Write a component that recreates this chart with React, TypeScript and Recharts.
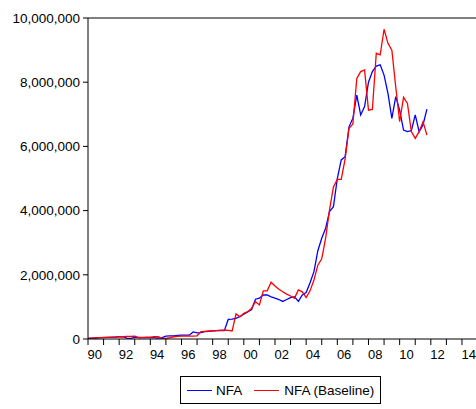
import React from 'react';
import {
  LineChart,
  Line,
  XAxis,
  YAxis,
  ReferenceLine,
} from 'recharts';

// Quarterly observations, 1990Q1 onwards, in millions
const START_YEAR = 1990;

const NFA = [
  0.02, 0.03, 0.03, 0.04,
  0.04, 0.05, 0.05, 0.06,
  0.07, 0.07, 0.03, 0.02,
  0.05, 0.05, 0.04, 0.05,
  0.04, 0.04, 0.03, 0.04,
  0.09, 0.10, 0.10, 0.11,
  0.12, 0.12, 0.12, 0.22,
  0.19, 0.20, 0.23, 0.24,
  0.25, 0.26, 0.27, 0.26,
  0.61, 0.62, 0.64, 0.70,
  0.77, 0.84, 0.92, 1.24,
  1.27, 1.37, 1.37, 1.31,
  1.27, 1.23, 1.17, 1.23,
  1.29, 1.32, 1.17, 1.37,
  1.45, 1.75, 2.10, 2.75,
  3.14, 3.45, 3.97, 4.12,
  5.00, 5.58, 5.68, 6.61,
  6.88, 7.60, 6.98, 7.24,
  8.00, 8.33, 8.50, 8.54,
  8.22, 7.65, 6.87, 7.55,
  7.13, 6.51, 6.46, 6.49,
  6.98, 6.46, 6.67, 7.16,
];

const NFA_BASELINE = [
  0.02, 0.03, 0.04, 0.04,
  0.05, 0.05, 0.06, 0.06,
  0.07, 0.07, 0.08, 0.08,
  0.09, 0.04, 0.05, 0.05,
  0.06, 0.07, 0.07, 0.02,
  0.02, 0.04, 0.07, 0.08,
  0.09, 0.09, 0.09, 0.09,
  0.10, 0.23, 0.24, 0.25,
  0.25, 0.26, 0.27, 0.28,
  0.27, 0.25, 0.78, 0.69,
  0.80, 0.85, 0.96, 1.16,
  1.06, 1.50, 1.50, 1.77,
  1.65, 1.55, 1.47, 1.40,
  1.34, 1.27, 1.53, 1.47,
  1.29, 1.50, 1.84, 2.30,
  2.50, 3.14, 4.02, 4.74,
  4.97, 4.97, 5.60, 6.56,
  6.70, 8.12, 8.33, 8.38,
  7.13, 7.15, 8.90, 8.85,
  9.65, 9.21, 9.00, 7.85,
  6.77, 7.53, 7.34, 6.46,
  6.25, 6.46, 6.77, 6.35,
];

const Y_TICKS = [0, 2000000, 4000000, 6000000, 8000000, 10000000];
const YEAR_TICKS = Array.from({ length: 26 }, (_, i) => START_YEAR + i);

const data = NFA.map((v, i) => ({
  t: START_YEAR + i / 4,
  nfa: v * 1e6,
  baseline: NFA_BASELINE[i] * 1e6,
}));

const FONT = 'Arial, "Liberation Sans", sans-serif';
const CHART_W = 480;
const CHART_H = 401;
const Y_AXIS_W = 80;
const X_MAX = 2015.67;
const HALF_YEAR = (CHART_W - Y_AXIS_W) / (X_MAX - START_YEAR) / 2;

// Year labels sit near the middle of each year, every other year
const YearTick = (props: any) => {
  const { x, y, payload } = props;
  const year = payload.value as number;
  if (year % 2 !== 0) return <g />;
  return (
    <text
      x={x + HALF_YEAR - 1}
      y={y}
      dy="0.71em"
      textAnchor="middle"
      fill="#000"
      fontSize={13}
      fontFamily={FONT}
    >
      {String(year % 100).padStart(2, '0')}
    </text>
  );
};

const LegendBox = () => (
  <div
    style={{
      position: 'absolute',
      left: 180,
      top: 376,
      height: 26,
      border: '1px solid #000',
      display: 'flex',
      alignItems: 'center',
      padding: '0 6px',
      fontFamily: FONT,
      fontSize: 13.5,
      color: '#000',
      background: '#fff',
    }}
  >
    <span style={{ width: 25, height: 0, borderTop: '1.3px solid #0000ff', marginRight: 4 }} />
    <span style={{ marginRight: 12 }}>NFA</span>
    <span style={{ width: 25, height: 0, borderTop: '1.3px solid #ff0000', marginRight: 5 }} />
    <span>NFA (Baseline)</span>
  </div>
);

export default function App() {
  // fixed frame the size of the window; the plot runs past its right edge
  return (
    <div
      style={{
        position: 'fixed',
        left: 0,
        top: 0,
        width: 476,
        height: 409,
        overflow: 'hidden',
        background: '#fff',
      }}
    >
      <div style={{ position: 'absolute', left: 8, top: 8 }}>
        <LineChart
          width={CHART_W}
          height={CHART_H}
          data={data}
          margin={{ top: 10, right: 0, left: 0, bottom: 40 }}
        >
          <XAxis
            dataKey="t"
            type="number"
            domain={[START_YEAR, X_MAX]}
            ticks={YEAR_TICKS}
            interval={0}
            allowDataOverflow
            height={30}
            tickSize={6}
            tickMargin={5}
            tick={<YearTick />}
            axisLine={{ stroke: '#000' }}
            tickLine={{ stroke: '#000' }}
          />
          <YAxis
            width={Y_AXIS_W}
            domain={[0, 10000000]}
            ticks={Y_TICKS}
            interval={0}
            tickSize={5}
            tickMargin={3}
            tickFormatter={(v: number) => v.toLocaleString('en-US')}
            tick={{ fill: '#000', fontSize: 13.5, fontFamily: FONT }}
            axisLine={{ stroke: '#000' }}
            tickLine={{ stroke: '#000' }}
          />
          <ReferenceLine y={10000000} stroke="#000" ifOverflow="extendDomain" />
          <Line
            type="linear"
            dataKey="nfa"
            stroke="#0000ff"
            strokeWidth={1.3}
            dot={false}
            isAnimationActive={false}
          />
          <Line
            type="linear"
            dataKey="baseline"
            stroke="#ff0000"
            strokeWidth={1.3}
            dot={false}
            isAnimationActive={false}
          />
        </LineChart>
      </div>
      <LegendBox />
    </div>
  );
}
